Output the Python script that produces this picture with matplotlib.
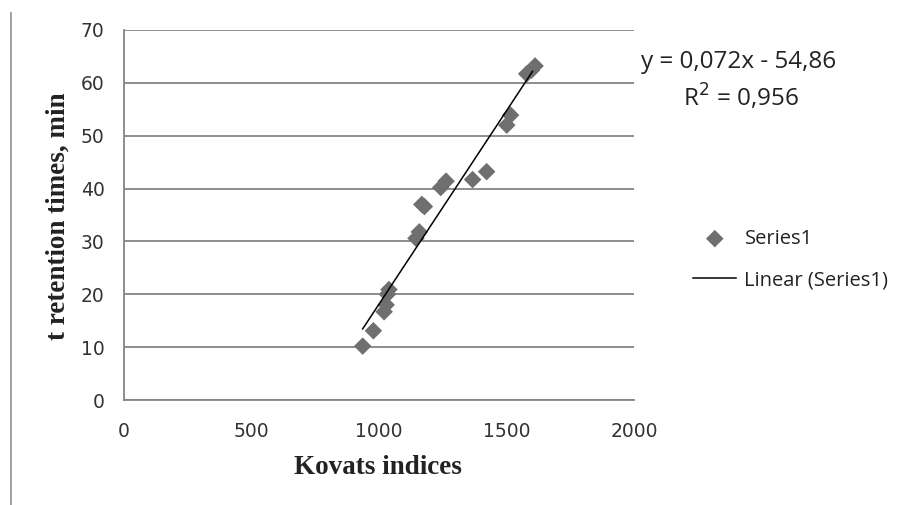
import matplotlib
matplotlib.use("Agg")
import matplotlib.pyplot as plt
from matplotlib.lines import Line2D
import numpy as np

kovats = [936, 978, 1020, 1028, 1033, 1039, 1145, 1158, 1168, 1178,
          1242, 1263, 1367, 1422, 1501, 1516, 1579, 1598, 1612]
ret_time = [10.2, 13.1, 16.7, 18.0, 20.0, 20.9, 30.6, 31.8, 37.0, 36.6,
            40.2, 41.4, 41.7, 43.2, 52.0, 53.9, 61.7, 62.4, 63.2]

x_ticks = [0, 500, 1000, 1500, 2000]
y_ticks = [0, 10, 20, 30, 40, 50, 60, 70]

eq_text = "y = 0,072x - 54,86"
r2_text = "R$^2$ = 0,956"

fig = plt.figure(figsize=(9.01, 5.05), dpi=100)
ax = fig.add_axes([0.1376, 0.2079, 0.5661, 0.7327])

gray = "#858585"
ax.set_xlim(0, 2000)
ax.set_ylim(0, 70)
ax.set_xticks(x_ticks)
ax.set_yticks(y_ticks)
ax.yaxis.grid(True, color=gray, linewidth=1.3)
ax.set_axisbelow(True)
for s in ["top", "right"]:
    ax.spines[s].set_visible(False)
for s in ["left", "bottom"]:
    ax.spines[s].set_color(gray)
    ax.spines[s].set_linewidth(1.3)
ax.tick_params(length=0, labelsize=13.5, colors="#333333")
ax.tick_params(axis="y", pad=14)
ax.tick_params(axis="x", pad=16)

ax.scatter(kovats, ret_time, marker="D", s=80, color="#6f6f6f",
           edgecolors="none", zorder=3, label="Series1")
coef = np.polyfit(kovats, ret_time, 1)
xs = np.array([min(kovats), max(kovats) - 10])
ax.plot(xs, np.polyval(coef, xs), color="black", linewidth=1.1, zorder=4,
        label="Linear (Series1)")

ax.set_xlabel("Kovats indices", family="Liberation Serif", fontweight="bold",
              fontsize=19.5, color="#222222")
ax.set_ylabel("t retention times, min", family="Liberation Serif",
              fontweight="bold", fontsize=19.5, color="#222222")
ax.xaxis.set_label_coords((378 - 124) / 510, -(467 - 400) / 370)
ax.yaxis.set_label_coords(-(124 - 58) / 510, (400 - 216) / 370)
ax.xaxis.label.set_va("center")
ax.yaxis.label.set_va("center")

fig.text(739 / 901, 1 - 62 / 505, eq_text, ha="center", va="center",
         fontsize=17.5, family="Open Sans", color="#222222")
fig.text(741 / 901, 1 - 97 / 505, r2_text, ha="center", va="center",
         fontsize=17.5, family="Open Sans", color="#222222")

leg = ax.legend(loc="center left", bbox_to_anchor=(675 / 901, 1 - 259.5 / 505),
                bbox_transform=fig.transFigure, frameon=False,
                prop={"family": "Open Sans", "size": 14.5}, handlelength=2.15,
                labelspacing=1.05, handletextpad=0.4, scatterpoints=1)
for t in leg.get_texts():
    t.set_color("#222222")

fig.add_artist(Line2D([11 / 901, 11 / 901], [0, 1 - 13 / 505],
                      color="#999999", linewidth=1.3,
                      transform=fig.transFigure))

fig.savefig("out.png", dpi=100, facecolor="white")
